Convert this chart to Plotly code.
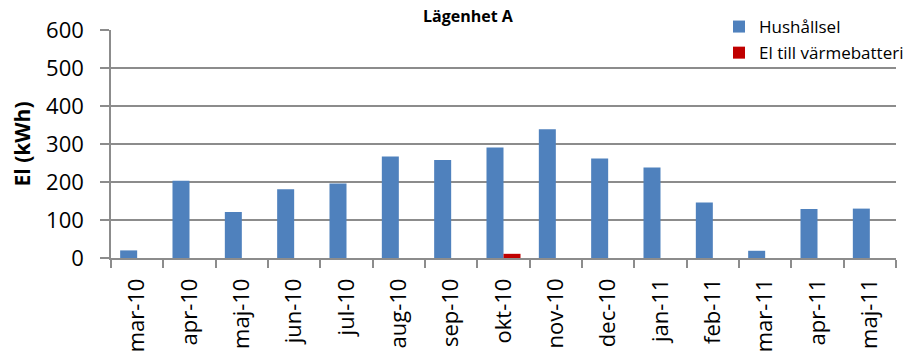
import plotly.graph_objects as go

months = ["mar-10", "apr-10", "maj-10", "jun-10", "jul-10", "aug-10", "sep-10",
          "okt-10", "nov-10", "dec-10", "jan-11", "feb-11", "mar-11", "apr-11", "maj-11"]
hushallsel = [20, 203, 121, 181, 196, 267, 258, 291, 339, 262, 238, 146, 19, 129, 130]
varmebatteri = [0, 0, 0, 0, 0, 0, 0, 11, 0, 0, 0, 0, 0, 0, 0]
y_ticks = [0, 100, 200, 300, 400, 500, 600]

FONT = "Open Sans"
GRID = "#8c8c8c"

fig = go.Figure()
fig.add_trace(go.Bar(x=months, y=hushallsel, name="Hushållsel",
                     marker=dict(color="#4F81BD", line=dict(width=0)),
                     legendgroup="a"))
fig.add_trace(go.Bar(x=months, y=varmebatteri, name="El till värmebatteri",
                     marker=dict(color="#C00000", line=dict(width=0)),
                     legendgroup="b"))

fig.update_layout(
    width=918, height=356,
    margin=dict(l=111, r=22, t=30, b=98, autoexpand=False),
    paper_bgcolor="white", plot_bgcolor="white",
    barmode="group", bargap=0.35, bargroupgap=0,
    font=dict(family=FONT, color="black"),
    title=dict(text="<b>Lägenhet A</b>", x=468 / 918, xanchor="center",
               xref="container", y=1 - 16 / 356, yanchor="middle",
               font=dict(size=16, family=FONT, color="black")),
    legend=dict(x=(727 - 111 - 8) / 785, xanchor="left", y=1 + 21 / 228, yanchor="top",
                bgcolor="rgba(0,0,0,0)", font=dict(size=17, family=FONT),
                tracegroupgap=1, itemclick=False),
    shapes=[dict(type="rect", xref="paper", yref="paper", layer="between",
                 x0=(692 - 111) / 785, x1=(918 - 111) / 785,
                 y0=(258 - 60) / 228, y1=(258 + 10) / 228 + 0.2,
                 fillcolor="white", line=dict(width=0))],
)

fig.update_xaxes(
    type="category", tickangle=-90, tickson="boundaries",
    ticks="outside", ticklen=8, tickwidth=1.5, tickcolor=GRID,
    showline=True, linecolor=GRID, linewidth=1.5, ticklabelstandoff=10,
    showgrid=False, tickfont=dict(size=22, family=FONT, color="black"),
)
fig.update_yaxes(
    range=[0, 600], tickvals=y_ticks, ticks="outside", ticklen=9,
    tickwidth=1.5, tickcolor=GRID, ticklabelstandoff=12,
    showline=True, linecolor=GRID, linewidth=1.5,
    showgrid=True, gridcolor=GRID, gridwidth=1.5, zeroline=False,
    tickfont=dict(size=22, family=FONT, color="black"),
    title=dict(text="<b>El (kWh)</b>", font=dict(size=21, family=FONT, color="black"),
               standoff=10),
)

fig.write_html("out.html")
